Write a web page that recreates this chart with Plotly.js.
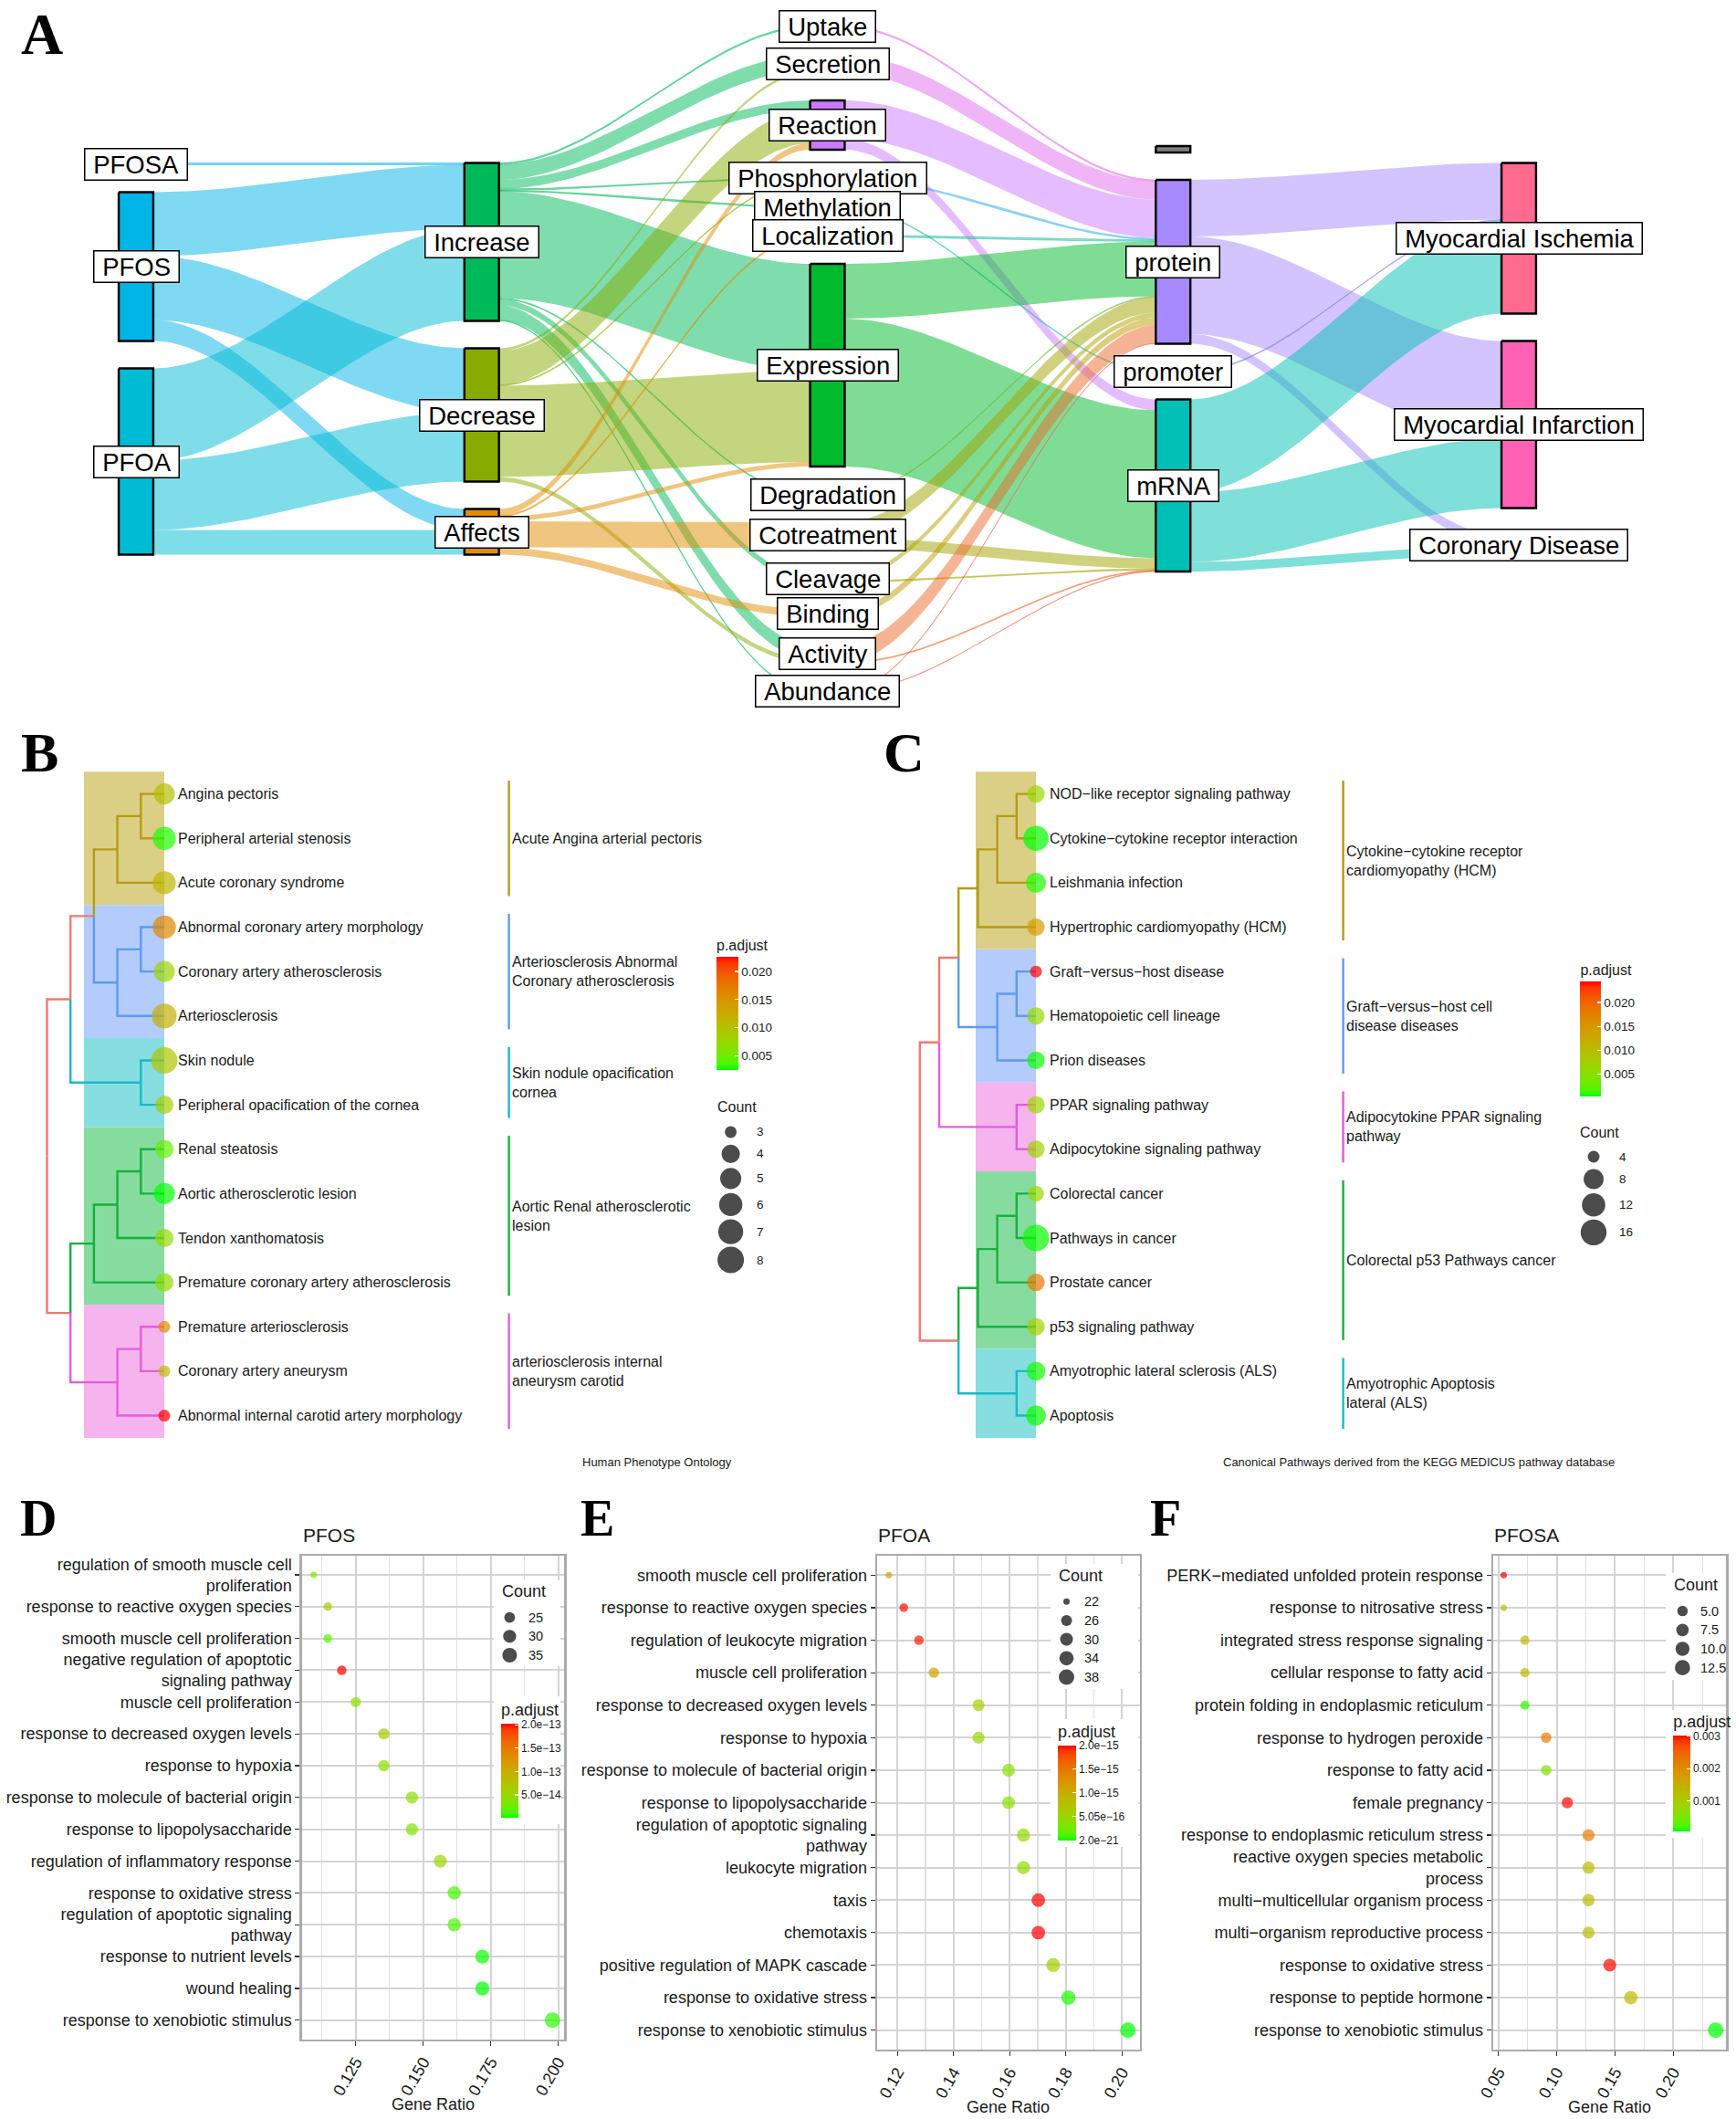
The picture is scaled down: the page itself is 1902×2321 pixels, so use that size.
<!DOCTYPE html>
<html>
<head>
<meta charset="utf-8">
<script src="https://cdn.plot.ly/plotly-3.0.1.min.js"></script>
<style>
html,body{margin:0;padding:0;background:#ffffff;}
body{width:1902px;height:2321px;position:relative;overflow:hidden;}
.pn{position:absolute;}
</style>
</head>
<body>
<div id="pA" class="pn" style="left:0px;top:0px;width:1902px;height:790px;"></div>
<div id="pB" class="pn" style="left:0px;top:790px;width:950px;height:835px;"></div>
<div id="pC" class="pn" style="left:950px;top:790px;width:952px;height:835px;"></div>
<div id="pD" class="pn" style="left:0px;top:1630px;width:630px;height:691px;"></div>
<div id="pE" class="pn" style="left:630px;top:1630px;width:625px;height:691px;"></div>
<div id="pF" class="pn" style="left:1255px;top:1630px;width:647px;height:691px;"></div>
<script>
// ======================= DATA =======================
// ---- Panel A (alluvial) ----
const aColumns = [
  ['PFOSA','PFOS','PFOA'],
  ['Increase','Decrease','Affects'],
  ['Uptake','Secretion','Reaction','Phosphorylation','Methylation','Localization','Expression','Degradation','Cotreatment','Cleavage','Binding','Activity','Abundance'],
  ['NA','protein','promoter','mRNA'],
  ['Myocardial Ischemia','Myocardial Infarction','Coronary Disease']
];
const aNodeColor = {
  'PFOSA':'#00B0EC','PFOS':'#00B4E6','PFOA':'#00BBD4',
  'Increase':'#00BA5A','Decrease':'#87AB00','Affects':'#E18B00',
  'Uptake':'#E26BEA','Secretion':'#E06CEE','Reaction':'#C97AFF','Phosphorylation':'#1AA3EE','Methylation':'#24BDB0',
  'Localization':'#19BF9F','Expression':'#00B92C','Degradation':'#6DBA37','Cotreatment':'#A2A300','Cleavage':'#ABA300',
  'Binding':'#BE9C00','Activity':'#EC6C2C','Abundance':'#EE6A55',
  'NA':'#808080','protein':'#A88AFF','promoter':'#7D82EE','mRNA':'#00BFB4',
  'Myocardial Ischemia':'#FF6A8E','Myocardial Infarction':'#FF62B5','Coronary Disease':'#FF61C9'
};
const aNodeExtra = {'NA':3.5};
const aFlowFrom = ['PFOSA','PFOS','PFOS','PFOS','PFOA','PFOA','PFOA',
  'Increase','Increase','Increase','Increase','Increase','Increase','Increase','Increase','Increase','Increase',
  'Decrease','Decrease','Decrease','Decrease','Decrease',
  'Affects','Affects','Affects','Affects','Affects',
  'Uptake','Secretion','Reaction','Reaction','Phosphorylation','Methylation','Localization','Expression','Expression',
  'Degradation','Cotreatment','Cotreatment','Cleavage','Cleavage','Binding','Activity','Activity','Abundance','Abundance',
  'protein','protein','protein','promoter','mRNA','mRNA','mRNA'];
const aFlowTo = ['Increase','Increase','Decrease','Affects','Increase','Decrease','Affects',
  'Uptake','Secretion','Reaction','Phosphorylation','Methylation','Expression','Degradation','Cleavage','Activity','Abundance',
  'Secretion','Reaction','Phosphorylation','Expression','Activity',
  'Reaction','Localization','Expression','Cotreatment','Binding',
  'protein','protein','protein','mRNA','protein','promoter','protein','protein','mRNA',
  'protein','protein','mRNA','protein','mRNA','protein','protein','mRNA','protein','mRNA',
  'Myocardial Ischemia','Myocardial Infarction','Coronary Disease','Myocardial Ischemia','Myocardial Ischemia','Myocardial Infarction','Coronary Disease'];
const aFlowValue = [1,35,35,11.5,50.5,38,13.5,
  0.75,8.5,5,0.75,0.5,58.5,0.5,3.5,8,0.5,
  1.5,18.5,0.5,50,2.5,
  3.5,0.75,2.5,14.25,4,
  0.75,10,21,6,1.25,0.5,0.75,30,81,
  0.5,8.5,5.75,2.75,0.75,4,10,0.5,0.25,0.25,
  31,53.5,5.25,0.5,51,38,5.25];

// ---- Panel B (Human Phenotype Ontology tree) ----
const bLeaves = ['Angina pectoris','Peripheral arterial stenosis','Acute coronary syndrome','Abnormal coronary artery morphology',
  'Coronary artery atherosclerosis','Arteriosclerosis','Skin nodule','Peripheral opacification of the cornea','Renal steatosis',
  'Aortic atherosclerotic lesion','Tendon xanthomatosis','Premature coronary artery atherosclerosis','Premature arteriosclerosis',
  'Coronary artery aneurysm','Abnormal internal carotid artery morphology'];
const bCount = [5,6,6,6,5,7,8,4,4,5,4,4,3,3,3];
const bPadj = [0.0101,0.0029,0.0113,0.0162,0.0079,0.0119,0.0095,0.0085,0.0045,0.0025,0.0073,0.0071,0.0154,0.0109,0.0226];
const bGroup = [0,0,0,1,1,1,2,2,3,3,3,3,4,4,4];
const bGroupLabel = ['Acute Angina arterial pectoris','Arteriosclerosis Abnormal<br>Coronary atherosclerosis','Skin nodule opacification<br>cornea',
  'Aortic Renal atherosclerotic<br>lesion','arteriosclerosis internal<br>aneurysm carotid'];
const bGroupColor = ['#B59B17','#5E9AF2','#1BB8C8','#17B03E','#E65CD8'];
const bGroupFill = ['#DBCF86','#B3CCFB','#86DEE0','#86DC9F','#F6B4EF'];
const bMerge = [[-1,-2,1],[1,-3,2],[-4,-5,1],[3,-6,2],[2,4,3],[-7,-8,1],[5,6,4],[-9,-10,1],[8,-11,2],[9,-12,3],[-13,-14,1],[11,-15,2],[10,12,4],[7,13,5]];
const bCountBreaks = [3,4,5,6,7,8];
const bPadjTicks = [0.005,0.010,0.015,0.020];
const bPadjText = ['0.005','0.010','0.015','0.020'];

// ---- Panel C (KEGG MEDICUS tree) ----
const cLeaves = ['NOD\u2212like receptor signaling pathway','Cytokine\u2212cytokine receptor interaction','Leishmania infection',
  'Hypertrophic cardiomyopathy (HCM)','Graft\u2212versus\u2212host disease','Hematopoietic cell lineage','Prion diseases',
  'PPAR signaling pathway','Adipocytokine signaling pathway','Colorectal cancer','Pathways in cancer','Prostate cancer',
  'p53 signaling pathway','Amyotrophic lateral sclerosis (ALS)','Apoptosis'];
const cCount = [6,15,8,6,4,6,6,6,6,5,17,6,6,7,8];
const cPadj = [0.0063,0.0003,0.0008,0.0143,0.0244,0.0061,0.0005,0.0066,0.0070,0.0063,0.0004,0.0181,0.0075,0.0006,0.0004];
const cGroup = [0,0,0,0,1,1,1,2,2,3,3,3,3,4,4];
const cGroupLabel = ['Cytokine\u2212cytokine receptor<br>cardiomyopathy (HCM)','Graft\u2212versus\u2212host cell<br>disease diseases',
  'Adipocytokine PPAR signaling<br>pathway','Colorectal p53 Pathways cancer','Amyotrophic Apoptosis<br>lateral (ALS)'];
const cGroupColor = ['#B59B17','#5E9AF2','#E65CD8','#17B03E','#1BB8C8'];
const cGroupFill = ['#DBCF86','#B3CCFB','#F6B4EF','#86DC9F','#86DEE0'];
const cMerge = [[-1,-2,1],[1,-3,2],[2,-4,3],[-5,-6,1],[4,-7,2],[3,5,4],[-8,-9,1],[6,7,5],[-10,-11,1],[9,-12,2],[10,-13,3],[-14,-15,1],[11,12,4],[8,13,6]];
const cCountBreaks = [4,8,12,16];
const cPadjTicks = [0.005,0.010,0.015,0.020];
const cPadjText = ['0.005','0.010','0.015','0.020'];

// ---- Panel D (PFOS) ----
const dTerms = ['regulation of smooth muscle cell<br>proliferation','response to reactive oxygen species','smooth muscle cell proliferation',
  'negative regulation of apoptotic<br>signaling pathway','muscle cell proliferation','response to decreased oxygen levels',
  'response to hypoxia','response to molecule of bacterial origin','response to lipopolysaccharide','regulation of inflammatory response',
  'response to oxidative stress','regulation of apoptotic signaling<br>pathway','response to nutrient levels','wound healing',
  'response to xenobiotic stimulus'];
const dRatio = [0.1094,0.1146,0.1146,0.1198,0.1250,0.1354,0.1354,0.1458,0.1458,0.1563,0.1615,0.1615,0.1719,0.1719,0.1979];
const dCount = [21,22,22,23,24,26,26,28,28,30,31,31,33,33,38];
const dPadj = [3.2e-14,6.3e-14,1.6e-14,2.03e-13,4.2e-14,6.5e-14,4.3e-14,4.4e-14,3.6e-14,5.2e-14,1.1e-14,1.2e-14,3.6e-15,1.6e-15,7.5e-15];
const dCountBreaks = [25,30,35];
const dPadjTicks = [5e-14,1e-13,1.5e-13,2e-13];
const dPadjText = ['5.0e\u221214','1.0e\u221213','1.5e\u221213','2.0e\u221213'];

// ---- Panel E (PFOA) ----
const eTerms = ['smooth muscle cell proliferation','response to reactive oxygen species','regulation of leukocyte migration',
  'muscle cell proliferation','response to decreased oxygen levels','response to hypoxia','response to molecule of bacterial origin',
  'response to lipopolysaccharide','regulation of apoptotic signaling<br>pathway','leukocyte migration','taxis','chemotaxis',
  'positive regulation of MAPK cascade','response to oxidative stress','response to xenobiotic stimulus'];
const eRatio = [0.1170,0.1223,0.1277,0.1330,0.1489,0.1489,0.1596,0.1596,0.1649,0.1649,0.1702,0.1702,0.1755,0.1809,0.2021];
const eCount = [22,23,24,25,28,28,30,30,31,31,32,32,33,34,38];
const ePadj = [1.1e-15,1.98e-15,1.95e-15,1.1e-15,6.0e-16,5.0e-16,4.0e-16,4.0e-16,4.6e-16,4.6e-16,2.0e-15,2.0e-15,6.0e-16,4.0e-17,2.0e-21];
const eCountBreaks = [22,26,30,34,38];
const ePadjTicks = [2e-21,5.05e-16,1e-15,1.5e-15,2e-15];
const ePadjText = ['2.0e\u221221','5.05e\u221216','1.0e\u221215','1.5e\u221215','2.0e\u221215'];

// ---- Panel F (PFOSA) ----
const fTerms = ['PERK\u2212mediated unfolded protein response','response to nitrosative stress','integrated stress response signaling',
  'cellular response to fatty acid','protein folding in endoplasmic reticulum','response to hydrogen peroxide','response to fatty acid',
  'female pregnancy','response to endoplasmic reticulum stress','reactive oxygen species metabolic<br>process',
  'multi\u2212multicellular organism process','multi\u2212organism reproductive process','response to oxidative stress',
  'response to peptide hormone','response to xenobiotic stimulus'];
const fRatio = [0.0545,0.0545,0.0727,0.0727,0.0727,0.0909,0.0909,0.1091,0.1273,0.1273,0.1273,0.1273,0.1455,0.1636,0.2364];
const fCount = [3,3,4,4,4,5,5,6,7,7,7,7,8,9,13];
const fPadj = [0.00303,0.00119,0.00131,0.00131,0.00015,0.00223,0.00056,0.00300,0.00220,0.00130,0.00130,0.00130,0.00301,0.00130,0.00006];
const fCountBreaks = [5,7.5,10,12.5];
const fCountText = ['5.0','7.5','10.0','12.5'];
const fPadjTicks = [0.001,0.002,0.003];
const fPadjText = ['0.001','0.002','0.003'];

// ======================= STYLE HELPERS =======================
const FONT = 'Liberation Sans, Arial, Helvetica, sans-serif';
const SERIF = 'Liberation Serif, Times New Roman, serif';
const TXT = '#1a1a1a';
const CFG = {staticPlot:true, displayModeBar:false};

function rgba(hex,a){const r=parseInt(hex.slice(1,3),16),g=parseInt(hex.slice(3,5),16),b=parseInt(hex.slice(5,7),16);return `rgba(${r},${g},${b},${a})`;}
function toLab(hex){
  const c=[1,3,5].map(i=>parseInt(hex.slice(i,i+2),16)/255).map(v=>v<=0.04045?v/12.92:Math.pow((v+0.055)/1.055,2.4));
  const X=(c[0]*0.4124564+c[1]*0.3575761+c[2]*0.1804375)/0.95047;
  const Y=(c[0]*0.2126729+c[1]*0.7151522+c[2]*0.0721750);
  const Z=(c[0]*0.0193339+c[1]*0.1191920+c[2]*0.9503041)/1.08883;
  const f=t=>t>0.008856?Math.cbrt(t):(7.787*t+16/116);
  return [116*f(Y)-16,500*(f(X)-f(Y)),200*(f(Y)-f(Z))];
}
function fromLab(l){
  const fy=(l[0]+16)/116,fx=fy+l[1]/500,fz=fy-l[2]/200;
  const fi=t=>t*t*t>0.008856?t*t*t:(t-16/116)/7.787;
  const X=fi(fx)*0.95047,Y=fi(fy),Z=fi(fz)*1.08883;
  const R=3.2404542*X-1.5371385*Y-0.4985314*Z,G=-0.9692660*X+1.8760108*Y+0.0415560*Z,B=0.0556434*X-0.2040259*Y+1.0572252*Z;
  const g=v=>{v=v<=0.0031308?12.92*v:1.055*Math.pow(Math.max(v,0),1/2.4)-0.055;return Math.round(Math.max(0,Math.min(1,v))*255);};
  return `rgb(${g(R)},${g(G)},${g(B)})`;
}
const CS=(function(){const a=toLab('#00FF00'),b=toLab('#FF0000'),out=[];for(let i=0;i<=20;i++){const t=i/20;out.push([t,fromLab(a.map((v,k)=>v+(b[k]-v)*t))]);}return out;})();

// colour bar: cb.top / cb.len describe the coloured bar itself; the title sits above it inside the bar's len
function cbar(cb,W,H,tv,tt,tsize,lsize){
  const th=1.5*tsize;
  return {x:cb.x/W,xanchor:'left',xref:'paper',y:1-(cb.top-th)/H,yanchor:'top',yref:'paper',len:cb.len+th,lenmode:'pixels',
    thickness:cb.th,thicknessmode:'pixels',xpad:0,ypad:0,outlinewidth:0,ticks:'inside',ticklen:4,tickwidth:1.2,tickcolor:'#ffffff',
    tickvals:tv,ticktext:tt,tickfont:{family:FONT,size:lsize,color:TXT},
    title:{text:'p.adjust',side:'top',font:{family:FONT,size:tsize,color:TXT}}};
}
function letter(ch,x,capTop,size,W,H){
  return {xref:'paper',yref:'paper',x:(x-1-0.02*size)/W,y:1-(capTop-0.229*size-1)/H,xanchor:'left',yanchor:'top',showarrow:false,
    text:'<b>'+ch+'</b>',font:{family:SERIF,size:size,color:'#000'}};
}
function baseLayout(W,H){
  return {width:W,height:H,margin:{l:0,r:0,t:0,b:0,pad:0},showlegend:false,paper_bgcolor:'rgba(0,0,0,0)',plot_bgcolor:'rgba(0,0,0,0)',font:{family:FONT,color:TXT}};
}

// ======================= PANEL A =======================
(function(){
  const W=1902,H=790,U=2,bw=0.1,gap=15,mid=196.5,colPx=378.75,col0=149;
  const nodes={};
  aColumns.forEach((col,c)=>col.forEach((nm,i)=>{nodes[nm]={nm,c,i,inV:0,outV:0};}));
  aFlowFrom.forEach((f,k)=>{nodes[f].outV+=aFlowValue[k];nodes[aFlowTo[k]].inV+=aFlowValue[k];});
  Object.values(nodes).forEach(n=>{n.size=Math.max(n.inV,n.outV,aNodeExtra[n.nm]||0);});
  aColumns.forEach(col=>{
    const tot=col.reduce((s,nm)=>s+nodes[nm].size,0)+gap*(col.length-1);
    let y=mid-tot/2;
    col.forEach(nm=>{const n=nodes[nm];n.top=y;n.so=y;n.ti=y;y+=n.size+gap;});
  });
  const fl=aFlowFrom.map((f,k)=>({s:nodes[f],t:nodes[aFlowTo[k]],v:aFlowValue[k]}));
  [...fl].sort((a,b)=>a.s.c-b.s.c||a.s.i-b.s.i||a.t.i-b.t.i).forEach(f=>{f.y0=f.s.so;f.s.so+=f.v;});
  [...fl].sort((a,b)=>a.t.c-b.t.c||a.t.i-b.t.i||a.s.i-b.s.i).forEach(f=>{f.y1=f.t.ti;f.t.ti+=f.v;});
  const traces=[],N=48;
  fl.forEach(f=>{
    const xs=f.s.c+bw/2,xe=f.t.c-bw/2,X=[],Y=[];
    for(let j=0;j<=N;j++){const t=j/N,s=t*t*(3-2*t);X.push(xs+(xe-xs)*t);Y.push(f.y0+(f.y1-f.y0)*s);}
    for(let j=N;j>=0;j--){const t=j/N,s=t*t*(3-2*t);X.push(xs+(xe-xs)*t);Y.push(f.y0+f.v+(f.y1-f.y0)*s);}
    const col=rgba(aNodeColor[f.s.nm],0.5);
    traces.push({type:'scatter',mode:'lines',x:X,y:Y,fill:'toself',fillcolor:col,line:{width:f.v<1.2?0.9:0,color:col},hoverinfo:'skip'});
  });
  Object.values(nodes).forEach(n=>{
    const x0=n.c-bw/2,x1=n.c+bw/2,y0=n.top,y1=n.top+n.size;
    traces.push({type:'scatter',mode:'lines',x:[x0,x1,x1,x0,x0],y:[y0,y0,y1,y1,y0],fill:'toself',fillcolor:aNodeColor[n.nm],line:{color:'#000',width:2.4},hoverinfo:'skip'});
  });
  const ann=[];
  Object.values(nodes).forEach(n=>{
    if(n.nm==='NA')return;
    ann.push({xref:'x',yref:'y',x:n.c,y:n.top+n.size/2,text:'\u00a0'+n.nm+'\u00a0',showarrow:false,xanchor:'center',yanchor:'middle',
      font:{family:FONT,size:27.5,color:'#000'},bgcolor:'#ffffff',bordercolor:'#000000',borderwidth:1.5,borderpad:1});
  });
  ann.push(letter('A',23,16,64,W,H));
  const L=baseLayout(W,H);
  L.xaxis={range:[-col0/colPx,(W-col0)/colPx],visible:false,fixedrange:true};
  L.yaxis={range:[H/U,0],visible:false,fixedrange:true};
  L.annotations=ann;
  Plotly.newPlot('pA',traces,L,CFG);
})();

// ======================= PANELS B / C =======================
function drawTree(id,o){
  const W=o.W,H=o.H,rowPx=48.64,row1=79.6,FS=16;
  const yTop=1-row1/rowPx,yBot=yTop+H/rowPx;
  const RED='#F07A72';
  const nd=[];
  const info=k=>k<0?{x:o.leafX,y:-k,leaves:[-k-1]}:nd[k-1];
  o.merge.forEach(m=>{const a=info(m[0]),b=info(m[1]);nd.push({x:o.leafX-m[2]*o.step,y:(a.y+b.y)/2,leaves:a.leaves.concat(b.leaves),kids:[a,b]});});
  const seg={},order=[];
  nd.forEach(p=>p.kids.forEach(c=>{
    const gs=[...new Set(c.leaves.map(l=>o.group[l]))];
    const col=gs.length===1?o.groupColor[gs[0]]:RED;
    if(!seg[col]){seg[col]={x:[],y:[]};order.push(col);}
    seg[col].x.push(p.x,p.x,c.x,null);seg[col].y.push(p.y,c.y,c.y,null);
  }));
  const traces=[];
  order.sort((a,b)=>(a===RED?-1:0)-(b===RED?-1:0));
  order.forEach(col=>traces.push({type:'scatter',mode:'lines',x:seg[col].x,y:seg[col].y,line:{color:col,width:2.4},hoverinfo:'skip'}));
  const grp=o.groupColor.map((c,g)=>{const idx=o.group.map((v,i)=>v===g?i+1:null).filter(v=>v!==null);return {first:Math.min(...idx),last:Math.max(...idx)};});
  const shapes=grp.map((s,g)=>({type:'rect',xref:'x',yref:'y',x0:o.rectX0,x1:o.leafX,y0:s.first-0.5,y1:s.last+0.5,fillcolor:o.groupFill[g],line:{width:0},layer:'below'}));
  grp.forEach((s,g)=>traces.push({type:'scatter',mode:'lines',x:[o.clusterX,o.clusterX],y:[s.first-0.3,s.last+0.3],line:{color:o.groupColor[g],width:2.4},hoverinfo:'skip'}));
  const cmin=Math.min(...o.count),cmax=Math.max(...o.count);
  const sz=c=>o.dmin+(o.dmax-o.dmin)*Math.sqrt((c-cmin)/(cmax-cmin));
  const pmin=Math.min(...o.padj),pmax=Math.max(...o.padj),pp=(pmax-pmin)*1e-6;
  traces.push({type:'scatter',mode:'markers',x:o.leaves.map(()=>o.leafX),y:o.leaves.map((_,i)=>i+1),
    marker:{size:o.count.map(sz),color:o.padj,colorscale:CS,cmin:pmin-pp,cmax:pmax+pp,showscale:true,line:{width:0},
      colorbar:cbar(o.cb,W,H,o.padjTicks,o.padjText,FS,13.5)},hoverinfo:'skip'});
  // count legend
  const kd=o.countBreaks.map(sz),ky=[o.keysY0];
  for(let i=1;i<kd.length;i++)ky.push(ky[i-1]+0.3*(kd[i-1]+kd[i])+14);
  traces.push({type:'scatter',mode:'markers',xaxis:'x2',yaxis:'y2',x:kd.map(()=>o.keysX),y:ky,marker:{size:kd,color:'#000',line:{width:0}},hoverinfo:'skip'});
  const ann=[];
  o.leaves.forEach((t,i)=>ann.push({xref:'x',yref:'y',x:o.labelX,y:i+1,text:t,showarrow:false,xanchor:'left',yanchor:'middle',borderpad:0,font:{family:FONT,size:FS,color:TXT}}));
  grp.forEach((s,g)=>ann.push({xref:'x',yref:'y',x:o.clusterLabelX,y:(s.first+s.last)/2,text:o.groupLabel[g],showarrow:false,xanchor:'left',yanchor:'middle',align:'left',borderpad:0,font:{family:FONT,size:FS,color:TXT}}));
  ann.push({xref:'x2',yref:'y2',x:o.countTitle[0],y:o.countTitle[1],text:'Count',showarrow:false,xanchor:'left',yanchor:'middle',borderpad:0,font:{family:FONT,size:FS,color:TXT}});
  ky.forEach((y,i)=>ann.push({xref:'x2',yref:'y2',x:o.keysLabelX,y:y,text:String(o.countBreaks[i]),showarrow:false,xanchor:'left',yanchor:'middle',borderpad:0,font:{family:FONT,size:13.5,color:TXT}}));
  ann.push({xref:'x2',yref:'y2',x:o.caption[0],y:o.caption[1],text:o.caption[2],showarrow:false,xanchor:'center',yanchor:'middle',font:{family:FONT,size:13,color:TXT}});
  ann.push(letter(o.letter,o.letterX,13,62,W,H));
  const L=baseLayout(W,H);
  L.xaxis={range:[0,W],visible:false,domain:[0,1],fixedrange:true};
  L.yaxis={range:[yBot,yTop],visible:false,domain:[0,1],fixedrange:true};
  L.xaxis2={range:[0,W],visible:false,domain:[0,1],anchor:'y2',fixedrange:true};
  L.yaxis2={range:[H,0],visible:false,domain:[0,1],anchor:'x2',fixedrange:true};
  L.shapes=shapes;L.annotations=ann;
  Plotly.newPlot(id,traces,L,CFG);
}
drawTree('pB',{W:950,H:835,leaves:bLeaves,count:bCount,padj:bPadj,group:bGroup,groupLabel:bGroupLabel,groupColor:bGroupColor,groupFill:bGroupFill,
  merge:bMerge,countBreaks:bCountBreaks,padjTicks:bPadjTicks,padjText:bPadjText,dmin:13,dmax:29,
  leafX:180,step:25.7,rectX0:92,labelX:194,clusterX:557.6,clusterLabelX:560,
  cb:{x:785,top:260,len:122,th:24},countTitle:[785,422],keysX:800.6,keysY0:449.9,keysLabelX:828,
  caption:[720,811,'Human Phenotype Ontology'],letter:'B',letterX:23});
drawTree('pC',{W:952,H:835,leaves:cLeaves,count:cCount,padj:cPadj,group:cGroup,groupLabel:cGroupLabel,groupColor:cGroupColor,groupFill:cGroupFill,
  merge:cMerge,countBreaks:cCountBreaks,padjTicks:cPadjTicks,padjText:cPadjText,dmin:13,dmax:29,
  leafX:185,step:21.2,rectX0:119,labelX:199,clusterX:521.6,clusterLabelX:524,
  cb:{x:781.4,top:287,len:124,th:23},countTitle:[780,450],keysX:796,keysY0:477,keysLabelX:822.7,
  caption:[604,811,'Canonical Pathways derived from the KEGG MEDICUS pathway database'],letter:'C',letterX:18});

// ======================= PANELS D / E / F =======================
function drawDot(id,o){
  const W=o.W,H=o.H,n=o.terms.length;
  const cmin=Math.min(...o.count),cmax=Math.max(...o.count);
  const sz=c=>7+10*Math.sqrt((c-cmin)/(cmax-cmin));
  const rmin=Math.min(...o.ratio),rmax=Math.max(...o.ratio),ex=(rmax-rmin)*0.05;
  const pmin=Math.min(...o.padj),pmax=Math.max(...o.padj),pp=(pmax-pmin)*1e-6;
  const traces=[];
  traces.push({type:'scatter',mode:'markers',x:o.ratio,y:o.terms,xaxis:'x',yaxis:'y',
    marker:{size:o.count.map(sz),color:o.padj,colorscale:CS,cmin:pmin-pp,cmax:pmax+pp,showscale:true,line:{width:0},
      colorbar:cbar(o.cb,W,H,o.padjTicks,o.padjText,18,12)},hoverinfo:'skip'});
  o.boxes.forEach(b=>traces.push({type:'scatter',mode:'lines',xaxis:'x2',yaxis:'y2',x:[b[0],b[1],b[1],b[0],b[0]],y:[b[2],b[2],b[3],b[3],b[2]],fill:'toself',fillcolor:'#ffffff',line:{width:0},hoverinfo:'skip'}));
  const kd=o.countBreaks.map(sz),ky=kd.map((_,i)=>o.keysY0+i*20.7);
  traces.push({type:'scatter',mode:'markers',xaxis:'x2',yaxis:'y2',x:kd.map(()=>o.keysX),y:ky,marker:{size:kd,color:'#000',line:{width:0}},hoverinfo:'skip'});
  const ann=[];
  ann.push({xref:'x2',yref:'y2',x:o.countTitle[0],y:o.countTitle[1],text:'Count',showarrow:false,xanchor:'left',yanchor:'middle',borderpad:0,font:{family:FONT,size:18,color:TXT}});
  ky.forEach((y,i)=>ann.push({xref:'x2',yref:'y2',x:o.keysLabelX,y:y,text:o.countText[i],showarrow:false,xanchor:'left',yanchor:'middle',borderpad:0,font:{family:FONT,size:14.5,color:TXT}}));
  ann.push({xref:'x2',yref:'y2',x:o.px0,y:51,text:o.title,showarrow:false,xanchor:'left',yanchor:'middle',borderpad:0,font:{family:FONT,size:21,color:TXT}});
  ann.push({xref:'x2',yref:'y2',x:(o.px0+o.px1)/2,y:o.xtitleY,text:'Gene Ratio',showarrow:false,xanchor:'center',yanchor:'middle',borderpad:0,font:{family:FONT,size:18,color:TXT}});
  ann.push(letter(o.letter,o.letterX,14,56,W,H));
  const L=baseLayout(W,H);
  L.xaxis={domain:[o.px0/W,o.px1/W],anchor:'y',range:[rmin-ex,rmax+ex],tick0:0,dtick:o.dtick,tickformat:o.fmt,tickangle:-60,
    ticks:'outside',ticklen:5,tickwidth:1.2,tickcolor:'#333333',tickfont:{family:FONT,size:18,color:TXT},
    showgrid:true,gridcolor:'#D4D4D4',gridwidth:2,minor:{dtick:o.dtick/2,tick0:0,showgrid:true,gridcolor:'#E0E0E0',gridwidth:1.2},
    showline:true,mirror:true,linecolor:'#ABABAB',linewidth:2.2,zeroline:false,automargin:false,fixedrange:true};
  L.yaxis={domain:[1-o.py1/H,1-o.py0/H],anchor:'x',type:'category',categoryorder:'array',categoryarray:o.terms,range:[n-1+0.6,-0.6],
    ticks:'outside',ticklen:5,tickwidth:1.2,tickcolor:'#333333',tickfont:{family:FONT,size:18,color:TXT},
    showgrid:true,gridcolor:'#D4D4D4',gridwidth:2,showline:true,mirror:true,linecolor:'#ABABAB',linewidth:2.2,zeroline:false,automargin:false,fixedrange:true};
  L.xaxis2={range:[0,W],visible:false,domain:[0,1],anchor:'y2',fixedrange:true};
  L.yaxis2={range:[H,0],visible:false,domain:[0,1],anchor:'x2',fixedrange:true};
  L.annotations=ann;
  Plotly.newPlot(id,traces,L,CFG);
}
drawDot('pD',{W:630,H:691,terms:dTerms,ratio:dRatio,count:dCount,padj:dPadj,countBreaks:dCountBreaks,countText:dCountBreaks.map(String),
  padjTicks:dPadjTicks,padjText:dPadjText,title:'PFOS',letter:'D',letterX:22,
  px0:330.6,px1:618.4,py0:74,py1:603.7,dtick:0.025,fmt:'.3f',xtitleY:674.5,
  countTitle:[549,113.4],keysX:558.4,keysY0:141.6,keysLabelX:577.5,cb:{x:549,top:259.7,len:101.3,th:19},
  boxes:[[541,614,101,195],[541,614,228,368]]});
drawDot('pE',{W:625,H:691,terms:eTerms,ratio:eRatio,count:eCount,padj:ePadj,countBreaks:eCountBreaks,countText:eCountBreaks.map(String),
  padjTicks:ePadjTicks,padjText:ePadjText,title:'PFOA',letter:'E',letterX:6.6,
  px0:330.8,px1:618.9,py0:74,py1:615,dtick:0.02,fmt:'.2f',xtitleY:678,
  countTitle:[529,95.6],keysX:538.5,keysY0:124.2,keysLabelX:557,cb:{x:529,top:283.6,len:102,th:19.5},
  boxes:[[521,617,83,220],[521,617,253,393]]});
drawDot('pF',{W:647,H:691,terms:fTerms,ratio:fRatio,count:fCount,padj:fPadj,countBreaks:fCountBreaks,countText:fCountText,
  padjTicks:fPadjTicks,padjText:fPadjText,title:'PFOSA',letter:'F',letterX:5,
  px0:380.9,px1:636.3,py0:74,py1:615,dtick:0.05,fmt:'.2f',xtitleY:678,
  countTitle:[578.2,105.5],keysX:588.4,keysY0:134.6,keysLabelX:606.9,cb:{x:578.2,top:272.8,len:103,th:19},
  boxes:[[570,636,93,210],[570,636,243,383]]});
</script>
</body>
</html>
